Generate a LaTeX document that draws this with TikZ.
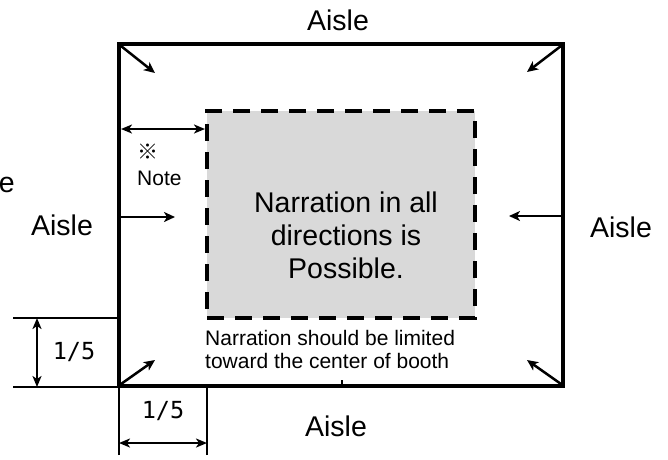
\documentclass[tikz,border=0pt]{standalone}
\usepackage{fontspec}
\setmainfont{Liberation Sans}
\newfontfamily\cjkfont{Noto Sans CJK JP}
\newfontfamily\dimfont{DejaVu Sans Mono}
\usetikzlibrary{arrows.meta}
\tikzset{
  tip/.style={-{Stealth[length=11pt,width=10pt,inset=3pt]}, line width=2.5pt},
  dimarrow/.style={{Stealth[length=11pt,width=9pt,inset=3pt]}-{Stealth[length=11pt,width=9pt,inset=3pt]}, line width=2pt},
  aisle/.style={font=\fontsize{28.5}{33}\selectfont, inner sep=0pt},
  frac/.style={font=\dimfont\fontsize{23.5}{26}\selectfont, inner sep=0pt}
}
\begin{document}
\begin{tikzpicture}[x=1pt,y=-1pt]
  \clip (0,0) rectangle (668,459);
  \node[draw, line width=4.5pt, outer sep=0pt, inner sep=0pt,
        minimum width=444pt, minimum height=342pt] (booth) at (341,215) {};
  \node[draw, fill=black!15, line width=4pt, dash pattern=on 17pt off 11pt,
        outer sep=0pt, inner sep=0pt, minimum width=268pt, minimum height=207pt] (zone) at (341,214.5) {};
  \node[aisle, align=center, anchor=center] (msg) at (346,235.5)
    {Narration in all\\directions is\hspace*{0.4em}\\Possible.};
  \node[inner sep=0pt, anchor=north west, align=left,
        font=\fontsize{21}{23}\selectfont] (limit) at (205,330)
    {Narration should be limited\\toward the center of booth};
  \node[inner sep=0pt, anchor=north west, align=left,
        font=\fontsize{21}{26}\selectfont] (note) at (137,144)
    {{\cjkfont ※}\\Note};
  \node[aisle, anchor=base] (top) at (338,30) {Aisle};
  \node[aisle, anchor=base] (left) at (62,235) {Aisle};
  \node[aisle, anchor=base] (right) at (621,237) {Aisle};
  \node[aisle, anchor=base] (bottom) at (336,436) {Aisle};
  \node[aisle, anchor=base east] (cut) at (15,192) {Aisle};
  \coordinate (tl) at (155,73);
  \coordinate (tr) at (527,72);
  \coordinate (br) at (527,360);
  \coordinate (bl) at (155,360);
  \coordinate (lm) at (175,217);
  \coordinate (rm) at (509,216);
  \coordinate (lm0) at (121,217);
  \coordinate (rm0) at (561,216);
  \begin{scope}[tip]
    \draw ([shift={(2,2)}]booth.north west) -- (tl);
    \draw ([shift={(-2,2)}]booth.north east) -- (tr);
    \draw ([shift={(-2,-2)}]booth.south east) -- (br);
    \draw ([shift={(2,-2)}]booth.south west) -- (bl);
    \draw (lm0) -- (lm);
    \draw (rm0) -- (rm);
  \end{scope}
  \coordinate (na) at (121,129);
  \coordinate (nb) at (205,129);
  \draw[dimarrow] (na) -- (nb);
  \coordinate (e1) at (13,318);
  \coordinate (e2) at (13,387);
  \draw[line width=1.8pt] (e1) -- (e1 -| booth.west);
  \draw[line width=1.8pt] (e2) -- (e2 -| booth.west);
  \coordinate (va) at (37,318);
  \coordinate (vb) at (37,387);
  \draw[dimarrow] (va) -- (vb);
  \node[frac] (fl) at (74,352) {1/5};
  \coordinate (f1) at (119,455);
  \coordinate (f2) at (207,455);
  \draw[line width=1.8pt] (f1) -- (f1 |- booth.south);
  \draw[line width=1.8pt] (f2) -- (f2 |- booth.south);
  \coordinate (ha) at (119,443);
  \coordinate (hb) at (207,443);
  \draw[dimarrow] (ha) -- (hb);
  \node[frac] (fb) at (163,411.5) {1/5};
  \coordinate (tick) at (342,380);
  \draw[line width=2pt] (tick) -- (tick |- booth.south);
\end{tikzpicture}
\end{document}
